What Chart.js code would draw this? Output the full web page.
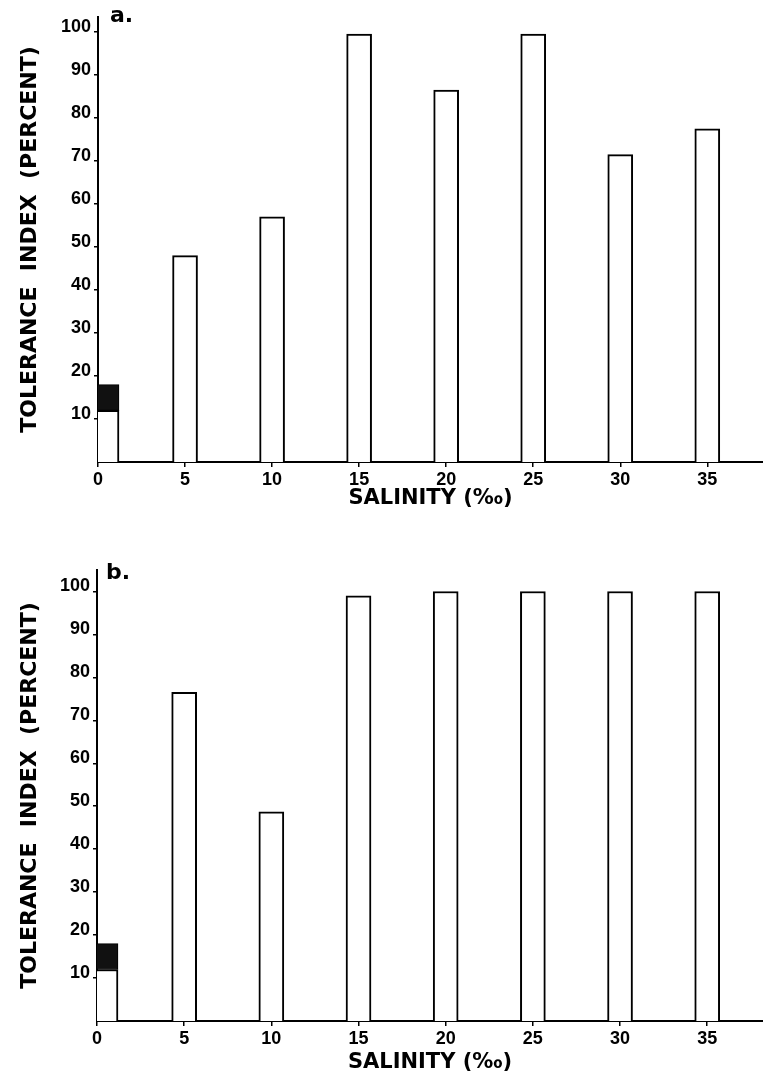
<!DOCTYPE html>
<html>
<head>
<meta charset="utf-8">
<script src="https://cdn.jsdelivr.net/npm/chart.js@4.4.1/dist/chart.umd.min.js"></script>
<style>
  body { margin: 0; background: #fff; }
  #page { position: relative; width: 763px; height: 1091px; }
  .panel { position: absolute; left: 0; width: 763px; }
  .tag { position: absolute; font: bold 22px "DejaVu Sans", sans-serif; line-height: 24px; color: #000; }
</style>
</head>
<body>
<div id="page">
  <div class="panel" style="top:0; height:530px;"><canvas id="chartA" width="763" height="530"></canvas></div>
  <div class="panel" style="top:530px; height:561px;"><canvas id="chartB" width="763" height="561"></canvas></div>
  <div class="tag" style="left:110px; top:3px;">a.</div>
  <div class="tag" style="left:106px; top:560px;">b.</div>
</div>
<script>
// salinity levels (per mille) and tolerance index (percent) for each panel
const salinity = [5, 10, 15, 20, 25, 30, 35];
const toleranceA = [48, 57, 99.5, 86.5, 99.5, 71.5, 77.5];
const toleranceB = [76.5, 48.7, 99, 100, 100, 100, 100];

// fresh water (0 ‰) bar: open part and the shaded cap on top of it
const freshA = 12;
const freshCapA = [12, 18];
const freshB = 12;
const freshCapB = [12, 18];

const salinityTicks = [0, 5, 10, 15, 20, 25, 30, 35];
const percentTicks = [10, 20, 30, 40, 50, 60, 70, 80, 90, 100];

const tickFont = { family: '"Liberation Sans", Arial, sans-serif', size: 18, weight: 'bold' };
const titleFont = { family: '"DejaVu Sans", sans-serif', weight: 'bold' };

function makePanel(canvasId, values, fresh, freshCap, cfg) {
    const ctx = document.getElementById(canvasId).getContext('2d');
    return new Chart(ctx, {
        type: 'bar',
        data: {
            datasets: [
                {
                    data: salinity.map((s, i) => ({ x: s, y: values[i] })),
                    backgroundColor: '#fff',
                    borderColor: '#000',
                    borderWidth: 2,
                    barThickness: 25
                },
                {
                    // the 0 ‰ bar sits against the axis, so the half left of it is clipped away
                    data: [{ x: 0, y: fresh }],
                    backgroundColor: '#fff',
                    borderColor: '#000',
                    borderWidth: 2,
                    barThickness: 42,
                    clip: 0
                },
                {
                    data: [{ x: 0, y: freshCap }],
                    backgroundColor: '#111',
                    borderColor: '#000',
                    borderWidth: 1,
                    borderSkipped: false,
                    barThickness: 42,
                    clip: 0
                }
            ]
        },
        options: {
            responsive: false,
            animation: false,
            grouped: false,
            layout: { padding: { top: cfg.top, left: 0, right: 0, bottom: 0 } },
            plugins: { legend: { display: false }, tooltip: { enabled: false } },
            scales: {
                x: {
                    type: 'linear',
                    min: 0,
                    max: 38.2,
                    offset: false,
                    grid: { display: true, drawOnChartArea: false, offset: false, color: '#000', lineWidth: 1.5, tickLength: 5 },
                    border: { display: true, color: '#000', width: 2 },
                    afterBuildTicks: scale => { scale.ticks = salinityTicks.map(v => ({ value: v })); },
                    afterFit: scale => { scale.height = cfg.xHeight; },
                    ticks: { color: '#000', font: tickFont, padding: 2, maxRotation: 0 },
                    title: {
                        display: true,
                        text: 'SALINITY (‰)',
                        color: '#000',
                        font: Object.assign({ size: 21 }, titleFont),
                        padding: { top: 0, bottom: cfg.xTitlePad }
                    }
                },
                y: {
                    min: 0,
                    max: cfg.yMax,
                    grid: { display: true, drawOnChartArea: false, color: '#000', lineWidth: 1.5, tickLength: 4 },
                    border: { display: true, color: '#000', width: 2 },
                    afterBuildTicks: scale => { scale.ticks = percentTicks.map(v => ({ value: v })); },
                    afterFit: scale => { scale.width = cfg.yWidth; },
                    ticks: { color: '#000', font: tickFont, padding: 3, labelOffset: -5 },
                    title: {
                        display: true,
                        text: 'TOLERANCE  INDEX  (PERCENT)',
                        color: '#000',
                        font: Object.assign({ size: 22 }, titleFont),
                        padding: { top: 17, bottom: 0 }
                    }
                }
            }
        }
    });
}

makePanel('chartA', toleranceA, freshA, freshCapA, { top: 17, yMax: 103.5, yWidth: 98, xHeight: 68, xTitlePad: 19 });
makePanel('chartB', toleranceB, freshB, freshCapB, { top: 40, yMax: 105, yWidth: 97, xHeight: 70, xTitlePad: 16 });
</script>
</body>
</html>
